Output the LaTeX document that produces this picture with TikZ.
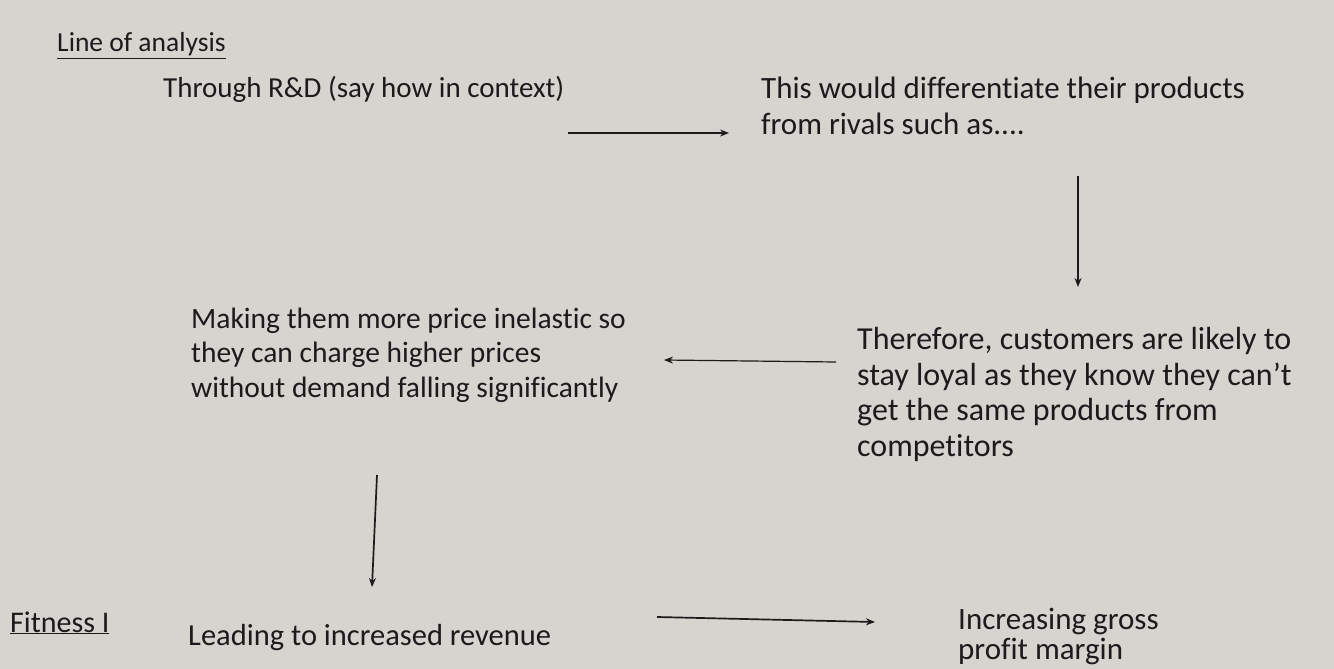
\documentclass[tikz,border=0pt]{standalone}
\usepackage{fontspec}
\setmainfont{Carlito}[Ligatures=NoCommon]
\usetikzlibrary{arrows.meta}
\definecolor{paper}{RGB}{214,212,207}
\definecolor{ink}{RGB}{28,26,26}
\begin{document}
\begin{tikzpicture}[x=1pt,y=-1pt,
  txt/.style={anchor=base west,inner sep=0pt,align=left,text=ink},
  fs/.style 2 args={font=\fontsize{#1}{#2}\selectfont},
  arr/.style={draw=ink,line width=1.7pt,-{Stealth[length=9pt,width=7pt]}}]
\fill[paper] (0,0) rectangle (1334,669);
\useasboundingbox (0,0) rectangle (1334,669);
\node[txt,fs={27.5}{35}] (title) at (57,52) {\underline{Line of analysis}};
\node[txt,fs={29}{35}] (rd) at (163,97) {Through R\&D (say how in context)};
\node[txt,fs={31}{36}] (diff) at (761,135) {This would differentiate their products\\from rivals such as....};
\node[txt,fs={32}{35.5}] (loyal) at (857,456) {Therefore, customers are likely to\\stay loyal as they know they can’t\\get the same products from\\competitors};
\node[txt,fs={29.5}{34.5}] (inel) at (191,397) {Making them more price inelastic so\\they can charge higher prices\\without demand falling significantly};
\node[txt,fs={30}{35}] (fit) at (10,632) {\underline{Fitness I}};
\node[txt,fs={30.5}{35}] (rev) at (188,645) {Leading to increased revenue};
\node[txt,fs={31}{30}] (gpm) at (958,659) {Increasing gross\\profit margin};
\coordinate (a1s) at (568,133); \coordinate (a1e) at (729,133);
\coordinate (a2s) at (1078,176); \coordinate (a2e) at (1078,287);
\coordinate (a3s) at (836,362); \coordinate (a3e) at (664,360);
\coordinate (a4s) at (377,475); \coordinate (a4e) at (372,587);
\coordinate (a5s) at (657,617); \coordinate (a5e) at (875,622);
\draw[arr] (a1s) -- (a1e);
\draw[arr] (a2s) -- (a2e);
\draw[arr,line width=1.2pt] (a3s) -- (a3e);
\draw[arr] (a4s) -- (a4e);
\draw[arr] (a5s) -- (a5e);
\end{tikzpicture}
\end{document}
